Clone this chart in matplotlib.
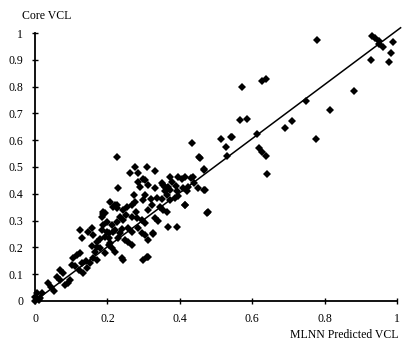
import numpy as np
import matplotlib
matplotlib.use("Agg")
from matplotlib import pyplot as plt

# MLNN predicted VCL vs core VCL
predicted = [
    0.000, 0.005, 0.000, 0.014, 0.037, 0.069, 0.078, 0.069, 0.051, 0.083,
    0.092, 0.097, 0.101, 0.106, 0.115, 0.124, 0.129, 0.120, 0.133, 0.143,
    0.152, 0.161, 0.170, 0.166, 0.124, 0.129, 0.157, 0.161, 0.157, 0.170,
    0.180, 0.184, 0.189, 0.184, 0.189, 0.203, 0.207, 0.193, 0.216, 0.226,
    0.221, 0.226, 0.207, 0.226, 0.276, 0.308, 0.331, 0.262, 0.285, 0.285,
    0.304, 0.230, 0.290, 0.313, 0.331, 0.354, 0.373, 0.377, 0.396, 0.414,
    0.437, 0.456, 0.468, 0.350, 0.359, 0.368, 0.359, 0.373, 0.410, 0.423,
    0.451, 0.470, 0.414, 0.474, 0.391, 0.387, 0.364, 0.373, 0.336, 0.345,
    0.354, 0.364, 0.322, 0.313, 0.304, 0.299, 0.272, 0.276, 0.267, 0.253,
    0.244, 0.216, 0.226, 0.235, 0.244, 0.267, 0.281, 0.295, 0.304, 0.212,
    0.221, 0.235, 0.258, 0.267, 0.285, 0.295, 0.304, 0.368, 0.391, 0.327,
    0.230, 0.249, 0.313, 0.203, 0.212, 0.221, 0.258, 0.267, 0.313, 0.299,
    0.240, 0.193, 0.198, 0.198, 0.193, 0.203, 0.433, 0.454, 0.299, 0.189,
    0.147, 0.244, 0.308, 0.327, 0.414, 0.405, 0.430, 0.390, 0.420, 0.440,
    0.467, 0.467, 0.478, 0.642, 0.543, 0.513, 0.541, 0.527, 0.531, 0.619,
    0.628, 0.637, 0.566, 0.585, 0.573, 0.627, 0.637, 0.614, 0.691, 0.711,
    0.748, 0.776, 0.778, 0.815, 0.881, 0.929, 0.930, 0.940, 0.950, 0.950,
    0.960, 0.990, 0.983, 0.978, 0.250, 0.280, 0.340, 0.180, 0.140, 0.110,
    0.060, 0.020, 0.045, 0.010, 0.350, 0.330, 0.170, 0.240, 0.320, 0.395,
]
core = [
    0.000, 0.029, 0.016, 0.011, 0.066, 0.078, 0.103, 0.116, 0.035, 0.060,
    0.066, 0.078, 0.134, 0.159, 0.172, 0.178, 0.141, 0.116, 0.103, 0.122,
    0.141, 0.159, 0.153, 0.184, 0.265, 0.234, 0.203, 0.246, 0.271, 0.221,
    0.197, 0.265, 0.284, 0.315, 0.333, 0.234, 0.215, 0.178, 0.259, 0.296,
    0.358, 0.346, 0.370, 0.539, 0.501, 0.501, 0.485, 0.476, 0.476, 0.445,
    0.451, 0.420, 0.427, 0.433, 0.420, 0.433, 0.464, 0.445, 0.464, 0.464,
    0.464, 0.532, 0.489, 0.439, 0.427, 0.427, 0.409, 0.415, 0.420, 0.427,
    0.420, 0.414, 0.358, 0.327, 0.409, 0.383, 0.396, 0.377, 0.383, 0.352,
    0.340, 0.333, 0.358, 0.340, 0.396, 0.377, 0.396, 0.370, 0.358, 0.352,
    0.340, 0.352, 0.358, 0.315, 0.302, 0.315, 0.309, 0.302, 0.290, 0.284,
    0.265, 0.252, 0.271, 0.259, 0.271, 0.252, 0.246, 0.277, 0.277, 0.252,
    0.234, 0.228, 0.228, 0.209, 0.197, 0.184, 0.221, 0.209, 0.165, 0.152,
    0.159, 0.327, 0.296, 0.259, 0.240, 0.252, 0.588, 0.536, 0.456, 0.326,
    0.257, 0.152, 0.164, 0.251, 0.357, 0.455, 0.460, 0.430, 0.410, 0.440,
    0.493, 0.414, 0.330, 0.475, 0.611, 0.603, 0.611, 0.576, 0.542, 0.570,
    0.557, 0.541, 0.675, 0.678, 0.797, 0.820, 0.830, 0.622, 0.644, 0.673,
    0.747, 0.604, 0.973, 0.713, 0.785, 0.899, 0.990, 0.980, 0.970, 0.960,
    0.950, 0.967, 0.924, 0.893, 0.320, 0.330, 0.300, 0.230, 0.150, 0.130,
    0.090, 0.030, 0.050, 0.005, 0.380, 0.310, 0.200, 0.270, 0.380, 0.390,
]

fit_x = [0.0, 1.01]
fit_y = [0.0, 1.02]

x_ticks = [0, 0.2, 0.4, 0.6, 0.8, 1]
x_labels = ["0", "0.2", "0.4", "0.6", "0.8", "1"]
y_ticks = [0, 0.1, 0.2, 0.3, 0.4, 0.5, 0.6, 0.7, 0.8, 0.9, 1]
y_labels = ["0", "0.1", "0.2", "0.3", "0.4", "0.5", "0.6", "0.7", "0.8", "0.9", "1"]

plt.rcParams['font.family'] = ['Liberation Serif', 'DejaVu Serif']

fig = plt.figure(figsize=(4.08, 3.45), dpi=100)
ax = fig.add_axes([0.086, 0.128, 0.887, 0.776])

ax.plot(predicted, core, 'D', color='black', ms=4, mew=0, clip_on=False)
ax.plot(fit_x, fit_y, color='black', lw=1.1, clip_on=False)

ax.set_xlim(0, 1)
ax.set_ylim(0, 1)
ax.spines['top'].set_visible(False)
ax.spines['right'].set_visible(False)
ax.spines['left'].set_linewidth(1.3)
ax.spines['bottom'].set_linewidth(1.3)
ax.set_xticks(x_ticks)
ax.set_xticklabels(x_labels)
ax.set_yticks(y_ticks)
ax.set_yticklabels(y_labels)
ax.tick_params(direction='inout', length=5, width=1, labelsize=8.5, pad=6)

fig.text(0.054, 0.955, "Core VCL", fontsize=8.5, ha='left', va='center')
fig.text(0.977, 0.030, "MLNN Predicted VCL", fontsize=8.5, ha='right', va='center')

fig.savefig("out.png", dpi=100)
